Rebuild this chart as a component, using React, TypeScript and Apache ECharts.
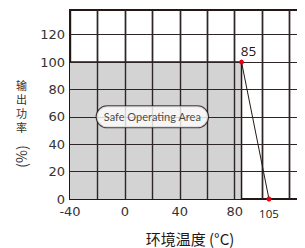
import React, { useEffect, useRef } from 'react';
import * as echarts from 'echarts';

// Data
const xLabelValues = [-40, 0, 40, 80];
const yLabelValues = [0, 20, 40, 60, 80, 100, 120];
const xGridValues = [-20, 0, 20, 40, 60, 80, 100, 120];
const yGridValues = [20, 40, 60, 80, 100, 120];
const shadeX = [-40, 85, 85];
const shadeY = [100, 100, 0];
const curveX = [85, 105];
const curveY = [100, 0];
const curveLabels = ['85', '105'];
const areaLabelText = 'Safe Operating Area';
const areaLabelX = [20];
const areaLabelY = [60];
const xName = '环境温度 (°C)';
const yNameChars = ['输', '出', '功', '率'];
const yNameUnit = '(%)';

const DARK = '#231815';

export default function App() {
  const ref = useRef<HTMLDivElement>(null);
  useEffect(() => {
    document.documentElement.style.overflow = 'hidden';
    document.body.style.overflow = 'hidden';
    const chart = echarts.init(ref.current!, undefined, { renderer: 'svg' });
    chart.setOption({
      animation: false,
      grid: {
        left: 62, top: 2, width: 247, height: 189,
        show: true, borderColor: DARK, borderWidth: 2, backgroundColor: 'transparent',
        outerBoundsMode: 'none', containLabel: false,
      },
      xAxis: {
        type: 'value', min: -40, max: 140, interval: 20,
        axisLine: { show: true, onZero: false, lineStyle: { color: DARK, width: 2 } },
        axisTick: { show: false },
        axisLabel: {
          margin: 6,
          color: '#333',
          fontFamily: 'DejaVu Sans',
          fontSize: 13,
          showMaxLabel: false,
          formatter: (v: number) => (xLabelValues.indexOf(v) >= 0 ? String(v) : ''),
        },
        splitLine: { show: true, lineStyle: { color: DARK, width: 1.4 } },
      },
      yAxis: {
        type: 'value', min: 0, max: 138, interval: 20,
        axisLine: { show: true, onZero: false, lineStyle: { color: DARK, width: 2 } },
        axisTick: { show: false },
        axisLabel: {
          margin: 5,
          color: '#333',
          fontFamily: 'DejaVu Sans',
          fontSize: 13,
          formatter: (v: number) => (yLabelValues.indexOf(v) >= 0 ? String(v) : ''),
        },
        splitLine: { show: true, lineStyle: { color: DARK, width: 1 } },
      },
      series: [
        {
          type: 'line',
          z: 1,
          data: shadeX.map((x, i) => [x, shadeY[i]]),
          symbol: 'none',
          lineStyle: { color: DARK, width: 1.5 },
          areaStyle: { color: '#d3d3d3', opacity: 1 },
          silent: true,
        },
        {
          type: 'line',
          z: 5,
          data: curveX.map((x, i) => ({
            value: [x, curveY[i]],
            label:
              i === 0
                ? { show: true, position: 'top', distance: 2, offset: [7, 0], formatter: curveLabels[i], fontFamily: 'Open Sans', fontSize: 13.5, color: DARK }
                : { show: true, position: 'bottom', distance: 6, formatter: curveLabels[i], fontFamily: 'Open Sans', fontSize: 11.5, color: DARK },
          })),
          symbol: 'circle',
          symbolSize: 5,
          itemStyle: { color: '#e60012' },
          lineStyle: { color: DARK, width: 1 },
          markLine: {
            silent: true,
            symbol: 'none',
            label: { show: false },
            lineStyle: { color: '#2e2626', width: 1.4, type: 'solid' },
            data: [
              ...xGridValues.map((v) => ({ xAxis: v })),
              ...yGridValues.map((v) => ({ yAxis: v, lineStyle: { width: 1 } })),
            ],
          },
        },
        {
          type: 'scatter',
          z: 6,
          data: areaLabelX.map((x, i) => [x, areaLabelY[i]]),
          symbolSize: 0,
          label: {
            show: true, position: 'inside', formatter: areaLabelText,
            fontFamily: 'Lato', fontSize: 11, color: DARK,
            backgroundColor: '#fff', borderColor: DARK, borderWidth: 1, borderRadius: 11,
            padding: [5, 7],
          },
        },
      ],
      graphic: [
        {
          type: 'text', x: 182, y: 230,
          style: { text: xName, fontFamily: 'Noto Sans CJK SC', fontSize: 15, fill: DARK, align: 'center', verticalAlign: 'middle' },
        },
        ...yNameChars.map((c, i) => ({
          type: 'text', x: 13.5, y: 77 + i * 14,
          style: { text: c, fontFamily: 'Noto Sans CJK SC', fontSize: 11, lineHeight: 11, fill: '#333', align: 'center', verticalAlign: 'middle' },
        })),
        {
          type: 'text', x: 13, y: 148.5, rotation: Math.PI / 2,
          style: { text: yNameUnit, fontFamily: 'Noto Sans CJK SC', fontSize: 14, fill: '#333', align: 'center', verticalAlign: 'middle' },
        },
      ],
    });
    return () => chart.dispose();
  }, []);
  return (
    <div style={{ width: 297, height: 240, overflow: 'hidden' }}>
      <div ref={ref} style={{ width: 330, height: 240 }} />
    </div>
  );
}
